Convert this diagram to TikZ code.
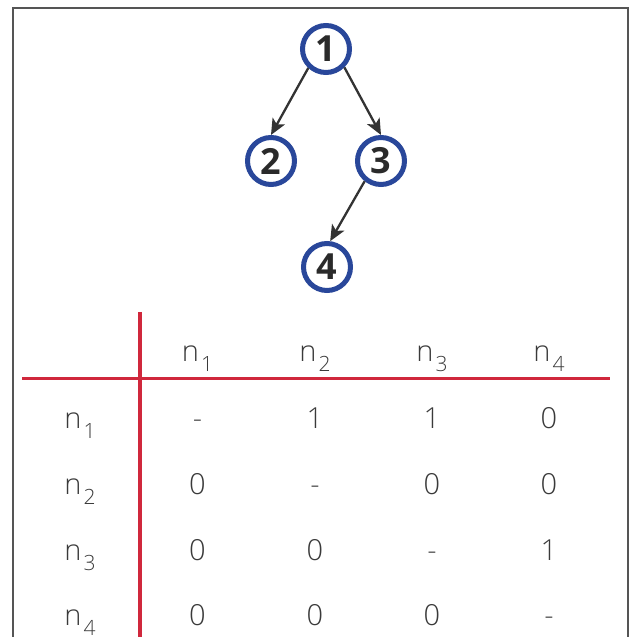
\documentclass[tikz,border=0pt]{standalone}
\usepackage{fontspec}
\setmainfont{Open Sans}
\IfFontExistsTF{Open Sans Light}{\newfontfamily\thinfont{Open Sans Light}}{\newfontfamily\thinfont{Open Sans}}
\usetikzlibrary{arrows.meta}
\definecolor{frame}{HTML}{555555}
\definecolor{navy}{HTML}{29479A}
\definecolor{arrowc}{HTML}{333333}
\definecolor{redl}{HTML}{D0283C}
\definecolor{txt}{HTML}{3A3A3A}
\definecolor{lbl}{HTML}{2A2A2A}
\newcommand{\nsub}[1]{n\hspace{2pt}\raisebox{-10pt}{\fontsize{21}{21}\selectfont #1}}
\begin{document}
\begin{tikzpicture}[x=1pt,y=1pt,
  vertex/.style={circle,draw=navy,line width=5pt,minimum size=47pt,inner sep=0pt,
    font=\fontsize{36}{36}\selectfont\bfseries,text=lbl},
  edge/.style={draw=arrowc,line width=2.3pt,-{Stealth[length=16pt,width=14pt,inset=4pt]}},
  cell/.style={anchor=base,inner sep=0pt,text=txt,font=\thinfont\fontsize{29}{29}\selectfont},
  rule/.style={draw=redl,line width=3.5pt}]
\useasboundingbox (0,0) rectangle (637,637);
\draw[frame,line width=2pt] (12.5,0) -- (12.5,629) -- (628,629) -- (628,0);
% tree
\node[vertex] (v1) at (326,588) {1};
\node[vertex] (v2) at (271,476) {2};
\node[vertex] (v3) at (381,476) {3};
\node[vertex] (v4) at (327,370) {4};
\draw[edge] (v1.-133) -- (v2.north);
\draw[edge] (v1.-45) -- (v3.north);
\draw[edge] (v3.-129) -- (v4.83);
% table rules
\coordinate (vt) at (140,325);
\coordinate (vb) at (140,0);
\coordinate (hl) at (22,258.5);
\coordinate (hr) at (610,258.5);
\draw[rule] (vt) -- (vb);
\draw[rule] (hl) -- (hr);
% header
\node[cell] (h1) at (197.5,275) {\nsub{1}};
\node[cell] (h2) at (315,275) {\nsub{2}};
\node[cell] (h3) at (432,275) {\nsub{3}};
\node[cell] (h4) at (549,275) {\nsub{4}};
% row labels
\node[cell] (r1) at (80,208) {\nsub{1}};
\node[cell] (r2) at (80,142) {\nsub{2}};
\node[cell] (r3) at (80,76) {\nsub{3}};
\node[cell] (r4) at (80,12) {\nsub{4}};
% values
\node[cell] (c11) at (197.5,208) {-};
\node[cell] (c12) at (315,208) {1};
\node[cell] (c13) at (432,208) {1};
\node[cell] (c14) at (549,208) {0};
\node[cell] (c21) at (197.5,142) {0};
\node[cell] (c22) at (315,142) {-};
\node[cell] (c23) at (432,142) {0};
\node[cell] (c24) at (549,142) {0};
\node[cell] (c31) at (197.5,76) {0};
\node[cell] (c32) at (315,76) {0};
\node[cell] (c33) at (432,76) {-};
\node[cell] (c34) at (549,76) {1};
\node[cell] (c41) at (197.5,12) {0};
\node[cell] (c42) at (315,12) {0};
\node[cell] (c43) at (432,12) {0};
\node[cell] (c44) at (549,12) {-};
\end{tikzpicture}
\end{document}
